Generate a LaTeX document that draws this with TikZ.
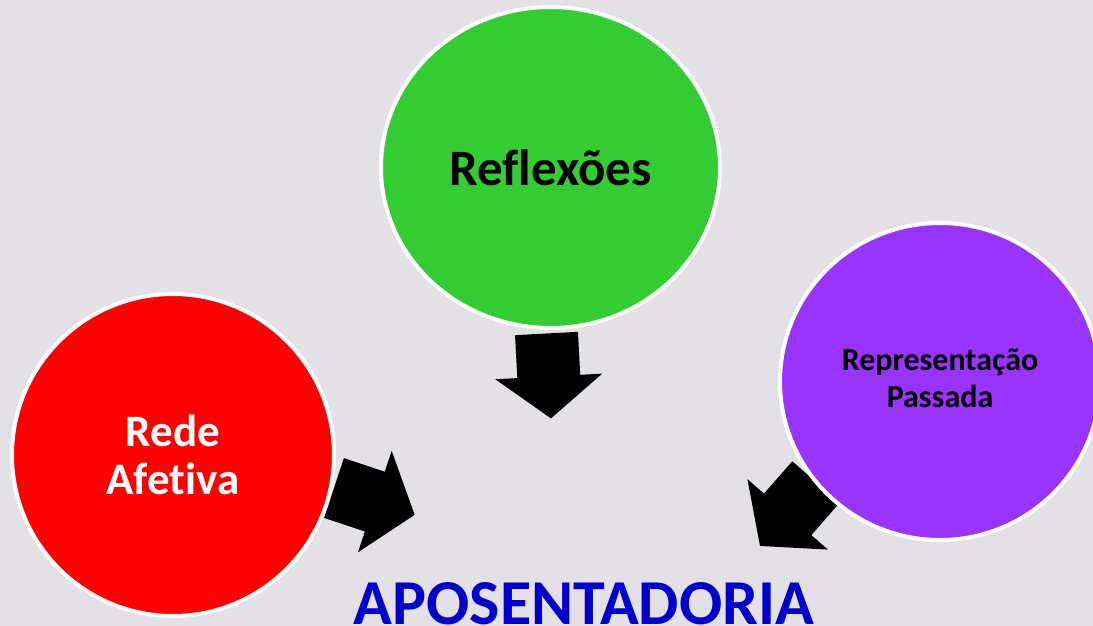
\documentclass[tikz,border=0pt]{standalone}
\usepackage{fontspec}
\setmainfont{Carlito}[Ligatures = NoCommon]
\usetikzlibrary{shapes.geometric}
\definecolor{bgcol}{RGB}{227,225,230}
\definecolor{reflcol}{RGB}{51,204,51}
\definecolor{redecol}{RGB}{255,0,0}
\definecolor{reprcol}{RGB}{153,51,255}
\definecolor{aposcol}{RGB}{0,0,204}
\tikzset{bubble/.style = {ellipse, draw = white, line width = 4pt, inner sep = 0, align = center},
  blockarrow/.style = {fill = black}}

\begin{document}
\begin{tikzpicture}[x = 1pt, y = -1pt]
      \fill [bgcol] (0, 0) rectangle (1093, 626);
      \useasboundingbox (0, 0) rectangle (1093, 626);

      \foreach \px/\py/\ang in {546.5/333.5/-87, 334/488/-18.4, 816/482/-131.2} {
        \begin{scope}[shift = {(\px, \py)}, rotate = \ang]
          \fill [blockarrow] (0, -31.5) -- (43, -31.5) -- (43, -53.5) -- (85, 0)
            -- (43, 53.5) -- (43, 31.5) -- (0, 31.5) -- cycle;
        \end{scope}
      }

      \node [bubble, fill = reflcol, minimum width = 339, minimum height = 321,
        font = \bfseries\fontsize{51}{56}\selectfont] (refl) at (550.5, 167.5) {Reflexões};
      \node [bubble, fill = redecol, text = white, minimum width = 322, minimum height = 322,
        font = \bfseries\fontsize{45}{48}\selectfont] (rede) at (173, 455) {Rede\\Afetiva};
      \node [bubble, fill = reprcol, minimum width = 320, minimum height = 317, text depth = 6pt,
        font = \bfseries\fontsize{32}{37}\selectfont] (repr) at (940, 381.5) {Representação\\Passada};

      \node [anchor = base, text = aposcol, inner sep = 0,
        font = \bfseries\fontsize{64}{70}\selectfont] (apos) at (584, 624) {APOSENTADORIA};
    \end{tikzpicture}
\end{document}
